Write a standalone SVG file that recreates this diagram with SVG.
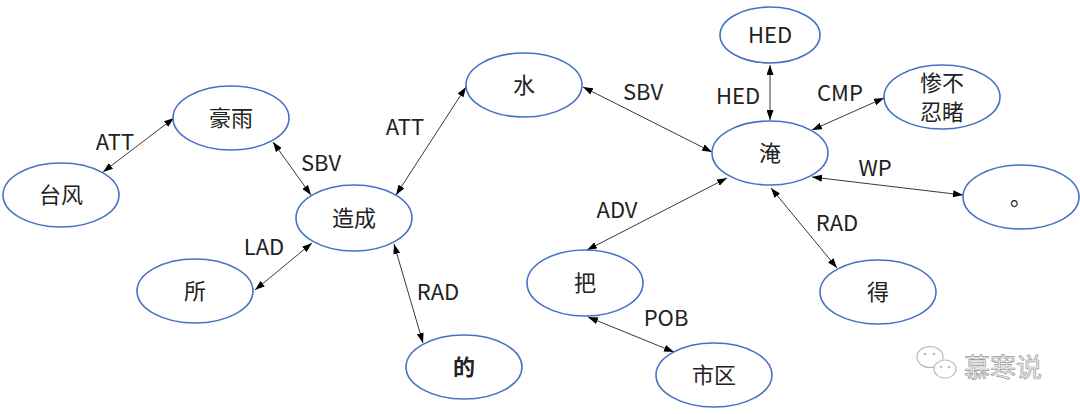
<svg xmlns="http://www.w3.org/2000/svg" width="1080" height="414" viewBox="0 0 1080 414">
<defs>
<marker id="ah" viewBox="0 0 10 7" refX="10" refY="3.5" markerWidth="10" markerHeight="7" markerUnits="userSpaceOnUse" orient="auto-start-reverse">
<path d="M0,0 L10,3.5 L0,7 z" fill="#000"/>
</marker>
<style>
.n{fill:#fff;stroke:#4472C4;stroke-width:1.6}
.t{font-family:"Noto Sans CJK SC","Noto Sans",sans-serif;font-size:22px;fill:#222;text-anchor:middle}
.l{font-family:"Noto Sans CJK SC","Noto Sans",sans-serif;font-size:22px;fill:#222;text-anchor:middle}
.e{stroke:#222;stroke-width:0.9;fill:none;marker-start:url(#ah);marker-end:url(#ah)}
.w{fill:none;stroke:#bbb;stroke-width:1.2}
</style>
</defs>
<rect width="1080" height="414" fill="#fff"/>
<g id="connectors">
<line class="e" x1="103" y1="172" x2="174" y2="118"/>
<line class="e" x1="273" y1="142" x2="311" y2="195"/>
<line class="e" x1="396" y1="195" x2="466" y2="87"/>
<line class="e" x1="255" y1="290" x2="312" y2="243"/>
<line class="e" x1="394" y1="244" x2="423" y2="343"/>
<line class="e" x1="583" y1="87" x2="712" y2="152"/>
<line class="e" x1="770" y1="65" x2="770" y2="120"/>
<line class="e" x1="812" y1="130" x2="884" y2="98"/>
<line class="e" x1="812" y1="177" x2="963" y2="195"/>
<line class="e" x1="771" y1="188" x2="837" y2="268"/>
<line class="e" x1="727" y1="178" x2="587" y2="250"/>
<line class="e" x1="588" y1="317" x2="674" y2="352"/>
<text class="l" x="115" y="150">ATT</text>
<text class="l" x="321" y="171">SBV</text>
<text class="l" x="405" y="135">ATT</text>
<text class="l" x="264" y="255">LAD</text>
<text class="l" x="438" y="300">RAD</text>
<text class="l" x="643" y="100">SBV</text>
<text class="l" x="738" y="104">HED</text>
<text class="l" x="840" y="101">CMP</text>
<text class="l" x="875" y="176">WP</text>
<text class="l" x="837" y="231">RAD</text>
<text class="l" x="617" y="218">ADV</text>
<text class="l" x="666" y="326">POB</text>
</g>
<g id="n-taifeng"><ellipse class="n" cx="61" cy="195" rx="58" ry="32"/><text class="t" x="61" y="203">台风</text></g>
<g id="n-haoyu"><ellipse class="n" cx="231" cy="118" rx="58" ry="32"/><text class="t" x="231" y="126">豪雨</text></g>
<g id="n-zaocheng"><ellipse class="n" cx="354" cy="218" rx="58" ry="33"/><text class="t" x="354" y="226">造成</text></g>
<g id="n-suo"><ellipse class="n" cx="195" cy="291" rx="58" ry="32"/><text class="t" x="195" y="299">所</text></g>
<g id="n-de1"><ellipse class="n" cx="464" cy="367" rx="58" ry="32"/><text class="t" x="464" y="375" font-weight="bold">的</text></g>
<g id="n-shui"><ellipse class="n" cx="524" cy="85" rx="58" ry="32"/><text class="t" x="524" y="93">水</text></g>
<g id="n-yan"><ellipse class="n" cx="770" cy="153" rx="58" ry="32"/><text class="t" x="770" y="161">淹</text></g>
<g id="n-hed"><ellipse class="n" cx="770" cy="35" rx="50" ry="28"/><text class="t" x="770" y="43" font-size="23">HED</text></g>
<g id="n-can"><ellipse class="n" cx="942" cy="97" rx="58" ry="32"/><text class="t" x="942" y="91" font-size="20">惨不</text><text class="t" x="942" y="120" font-size="20">忍睹</text></g>
<g id="n-period"><ellipse class="n" cx="1021" cy="197" rx="58" ry="32"/><text class="t" x="1021" y="205">。</text></g>
<g id="n-ba"><ellipse class="n" cx="585" cy="283" rx="58" ry="33"/><text class="t" x="585" y="291">把</text></g>
<g id="n-shiqu"><ellipse class="n" cx="714" cy="375" rx="58" ry="32"/><text class="t" x="714" y="383">市区</text></g>
<g id="n-de2"><ellipse class="n" cx="878" cy="292" rx="58" ry="32"/><text class="t" x="878" y="300">得</text></g>
<g id="watermark">
<ellipse class="w" cx="930" cy="357" rx="13" ry="10.5"/>
<ellipse cx="945" cy="369" rx="11" ry="9" fill="#fff" stroke="#bbb" stroke-width="1.2"/>
<circle cx="925" cy="354" r="1.3" fill="#bbb"/><circle cx="934" cy="354" r="1.3" fill="#bbb"/>
<circle cx="941" cy="367" r="1.2" fill="#bbb"/><circle cx="949" cy="367" r="1.2" fill="#bbb"/>
<text x="964" y="377" font-family="'Noto Sans CJK SC',sans-serif" font-size="26" fill="#f2f2f2" stroke="#9a9a9a" stroke-width="0.7">慕寒说</text>
</g>
</svg>
